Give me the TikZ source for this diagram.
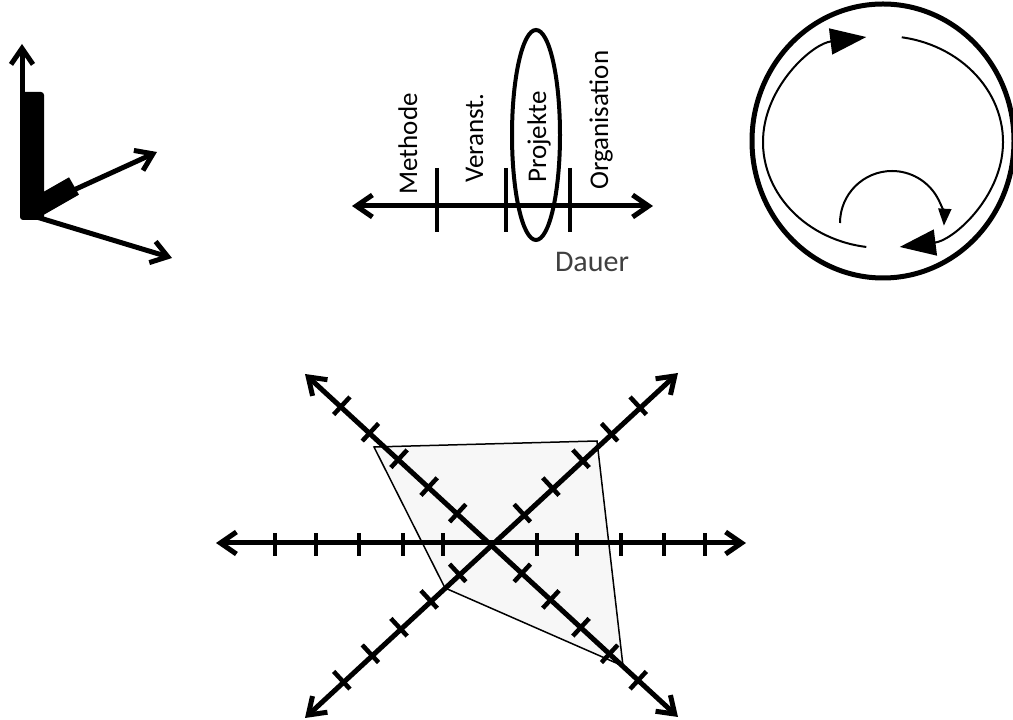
\documentclass[tikz,border=0pt]{standalone}
\usepackage{fontspec}
\setmainfont{Carlito}
\usetikzlibrary{arrows.meta,positioning}

\begin{document}
\begin{tikzpicture}[x=1pt,y=1pt,
  ax/.style={line width=5pt,-{Straight Barb[length=16pt,width=22pt]}},
  axx/.style={line width=5pt,{Straight Barb[length=16pt,width=22pt]}-{Straight Barb[length=16pt,width=22pt]}},
  tick/.style={line width=4.5pt},
  lbl/.style={rotate=90,anchor=base west,inner sep=0pt,font=\fontsize{27}{30}\selectfont},
  bigtip/.style={-{Triangle[length=36pt,width=26pt]}}]
\useasboundingbox (0,0) rectangle (1013,720);

% vectors
\fill[rounded corners=3pt] (20,628) rectangle (44,500);
\draw[line width=20pt] (32,510) -- (74,534);
\draw[ax] (22,505) -- (22,676);
\draw[ax] (30,510) -- (157,568);
\draw[ax] (30,505) -- (172,462);

% duration axis
\draw[axx] (352,514) -- (653,514);
\foreach \x in {437,506,570}
  \draw[tick] (\x,552) -- (\x,488);
\node[lbl] (methode) at (417,525) {Methode};
\node[lbl] (veranst) at (483,537) {Veranst.};
\node[lbl] (projekte) at (546,537) {Projekte};
\node[lbl] (orga) at (608,530) {Organisation};
\node[font=\fontsize{30}{32}\selectfont,text=black!75] (dauer) at (592,458) {Dauer};
\draw[line width=4pt] (536,585) ellipse [x radius=24,y radius=105];

% cycle
\draw[line width=5pt] (883,579) ellipse [x radius=131,y radius=137];
\draw[line width=2pt,bigtip] (883,578) ++(262:120 and 106)
  arc[start angle=262,end angle=98,x radius=120,y radius=106];
\draw[line width=2pt,bigtip] (883,578) ++(81:120 and 106)
  arc[start angle=81,end angle=-82,x radius=120,y radius=106];
\draw[line width=2pt,-{Triangle[length=17pt,width=13pt]}] (892,497) ++(180:52)
  arc[start angle=180,end angle=-3,radius=52];

% star
\coordinate (c) at (490,177);
\draw[line width=1.5pt,fill=gray!6] (374,273) -- (597,279) -- (623,54) -- (445,132) -- cycle;
\draw[axx] (216,177) -- (746,177);
\draw[axx] (305,2) -- (678,347);
\draw[axx] (305,346) -- (678,3);
\foreach \d in {47,87,131,174,215} {
  \draw[tick] (490+\d,164) -- (490+\d,187);
  \draw[tick] (490-\d,164) -- (490-\d,187);
}
\foreach \r in {42.8,-42.8}
  \foreach \d in {44,83,124,163,202} {
    \draw[tick,shift={(c)},rotate=\r] (\d,-12) -- (\d,12);
    \draw[tick,shift={(c)},rotate=\r] (-\d,-12) -- (-\d,12);
  }
\end{tikzpicture}
\end{document}
